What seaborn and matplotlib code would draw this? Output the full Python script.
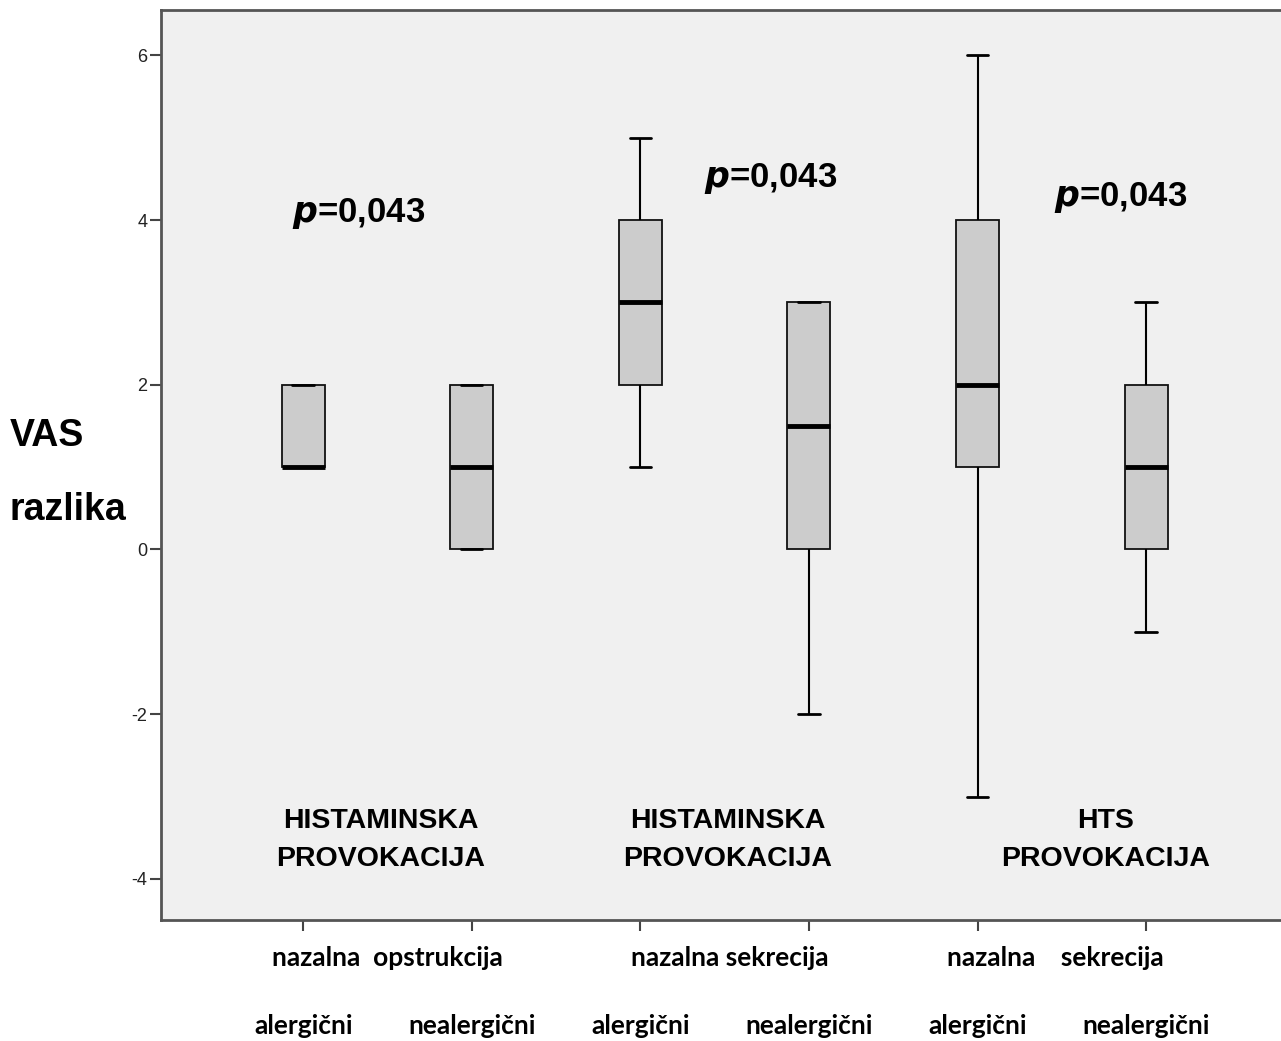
import numpy as np
import pandas as pd
import seaborn as sns
import matplotlib.pyplot as plt
import matplotlib.transforms as mtransforms

# VAS difference values per group
groups = ['opstr_alerg', 'opstr_nealerg', 'sekr_alerg', 'sekr_nealerg', 'hts_alerg', 'hts_nealerg']
opstr_alerg = [1, 1, 1, 2, 2]
opstr_nealerg = [0, 0, 1, 2, 2]
sekr_alerg = [1, 2, 3, 4, 5]
sekr_nealerg = [-2, 0, 0, 3, 3, 3]
hts_alerg = [-3, 1, 2, 4, 6]
hts_nealerg = [-1, 0, 1, 2, 3]

tick_labels = ['alergični', 'nealergični', 'alergični', 'nealergični', 'alergični', 'nealergični']
pair_labels = ['nazalna  opstrukcija', 'nazalna sekrecija', 'nazalna    sekrecija']
prov_labels = ['HISTAMINSKA\nPROVOKACIJA', 'HISTAMINSKA\nPROVOKACIJA', 'HTS\nPROVOKACIJA']
p_text = '$\\mathbfit{p}$=0,043'

vals = [opstr_alerg, opstr_nealerg, sekr_alerg, sekr_nealerg, hts_alerg, hts_nealerg]
df = pd.DataFrame({
    'grupa': np.concatenate([[g] * len(v) for g, v in zip(groups, vals)]),
    'vas': np.concatenate(vals),
})

sns.set_style('white')
plt.rcParams['font.family'] = ['Liberation Sans', 'DejaVu Sans']
plt.rcParams['text.color'] = 'black'

fig = plt.figure(figsize=(12.81, 10.41), dpi=100)
ax = fig.add_axes([0.1257, 0.1162, 0.8743, 0.8742])
ax.set_facecolor('#f0f0f0')

sns.boxplot(data=df, x='grupa', y='vas', order=groups, color='#cccccc', saturation=1,
            width=0.255, linecolor='#111111', linewidth=1.3, fliersize=0,
            medianprops={'color': 'black', 'linewidth': 3.5},
            whiskerprops={'color': 'black', 'linewidth': 1.5},
            capprops={'color': 'black', 'linewidth': 2}, ax=ax)

ax.set_xlim(-0.843, 5.80)
ax.set_ylim(-4.5, 6.55)
ax.set_yticks([-4, -2, 0, 2, 4, 6])
ax.set_yticklabels(['-4', '-2', '0', '2', '4', '6'], fontsize=13, color='#222222')
ax.set_xticks(range(6))
ax.set_xticklabels(tick_labels, fontsize=19, fontweight='bold', family='Lato', color='black')
ax.tick_params(axis='x', length=8, width=1.5, color='#444444', pad=60, bottom=True)
ax.tick_params(axis='y', length=8, width=1.5, color='#444444', pad=2, left=True)
ax.set_xlabel('')
ax.set_ylabel('')
for s in ['left', 'bottom', 'top']:
    ax.spines[s].set_color('#555555')
    ax.spines[s].set_linewidth(2)
ax.spines['right'].set_visible(False)

# p-values
for x, y in zip([0.33, 2.77, 4.85], [4.08, 4.51, 4.27]):
    ax.text(x, y, p_text, fontsize=25, fontweight='bold', ha='center', va='center')

# provocation type labels
for x, lab in zip([0.46, 2.52, 4.76], prov_labels):
    ax.text(x, -3.53, lab, fontsize=20.5, fontweight='bold', ha='center', va='center',
            linespacing=1.6)

# first row of x labels
trans = mtransforms.blended_transform_factory(ax.transData, fig.transFigure)
for x, lab in zip([0.5, 2.53, 4.46], pair_labels):
    ax.text(x, 1 - 958 / 1041, lab, fontsize=19, fontweight='bold', family='Lato',
            ha='center', va='center', transform=trans)

fig.text(10 / 1281, 1 - 436 / 1041, 'VAS', fontsize=27, fontweight='bold', ha='left', va='center')
fig.text(10 / 1281, 1 - 510 / 1041, 'razlika', fontsize=27, fontweight='bold', ha='left', va='center')

fig.savefig('out.png', dpi=100)
